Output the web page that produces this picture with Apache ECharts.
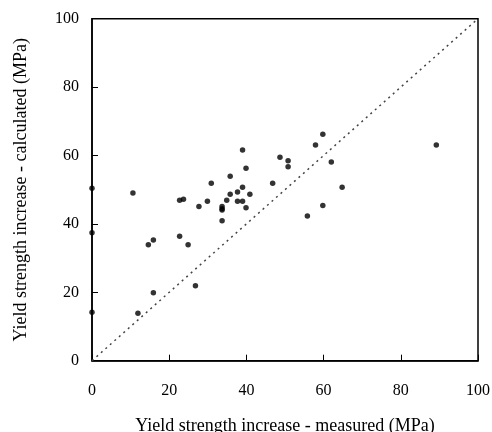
<!DOCTYPE html>
<html><head><meta charset="utf-8">
<script src="https://cdn.jsdelivr.net/npm/echarts@6/dist/echarts.min.js"></script>
<style>html,body{margin:0;padding:0;background:#fff}#c{width:492px;height:432px}</style>
</head><body><div id="c"></div>
<script>
var measured = [0,0,10.6,39,48.7,39.9,30.9,35.8,46.8,39,37.7,35.8,40.9,22.7,23.7,29.9,34.9,37.7,39,27.7,33.7,33.7,33.7,39.9,33.7,22.7,14.6,15.9,24.9,59.8,57.9,50.8,50.8,62,64.8,59.8,55.8,89.2,26.8,15.9,11.9,0];
var calculated = [50.4,37.4,49.0,61.6,59.5,56.3,51.9,53.9,51.9,50.7,49.3,48.7,48.7,46.9,47.2,46.6,46.9,46.6,46.6,45.1,45.1,44.4,44.1,44.7,40.9,36.4,33.9,35.3,33.9,66.2,63.1,58.5,56.7,58.1,50.7,45.4,42.3,63.1,21.9,19.9,13.9,14.2];
var lineX = [0,100];
var lineY = [0,100];
var xTitle = 'Yield strength increase - measured (MPa)';
var yTitle = 'Yield strength increase - calculated (MPa)';

var pts = measured.map(function(v,i){return [v, calculated[i]];});
var linePts = lineX.map(function(v,i){return [v, lineY[i]];});
var font = 'Liberation Serif';
var chart = echarts.init(document.getElementById('c'), null, {renderer:'canvas'});
var axisCommon = {
  min:0, max:100, interval:20,
  axisLine:{show:true, onZero:false, lineStyle:{color:'#000', width:1.5}},
  axisTick:{show:true, inside:true, length:6, lineStyle:{color:'#000', width:1}},
  splitLine:{show:false},
  nameLocation:'middle',
  nameTextStyle:{fontFamily:font, fontSize:18, color:'#000'}
};
chart.setOption({
  animation:false,
  backgroundColor:'#fff',
  grid:{left:92, right:14, top:18.7, bottom:71.3, outerBoundsMode:'none', containLabel:false, show:true, borderColor:'#000', borderWidth:1.5, backgroundColor:'transparent'},
  xAxis:Object.assign({}, axisCommon, {type:'value', name:xTitle, nameGap:57,
    axisLabel:{margin:22, fontFamily:font, fontSize:16, color:'#000'}}),
  yAxis:Object.assign({}, axisCommon, {type:'value', name:yTitle, nameGap:62,
    axisLabel:{margin:13, fontFamily:font, fontSize:16, color:'#000'}}),
  series:[
    {type:'line', data:linePts, symbol:'none', lineStyle:{type:[2,4], color:'#444', width:1.5}, z:1},
    {type:'scatter', data:pts, symbol:'circle', symbolSize:5.5, itemStyle:{color:'#000'}, z:3}
  ]
});
</script></body></html>
